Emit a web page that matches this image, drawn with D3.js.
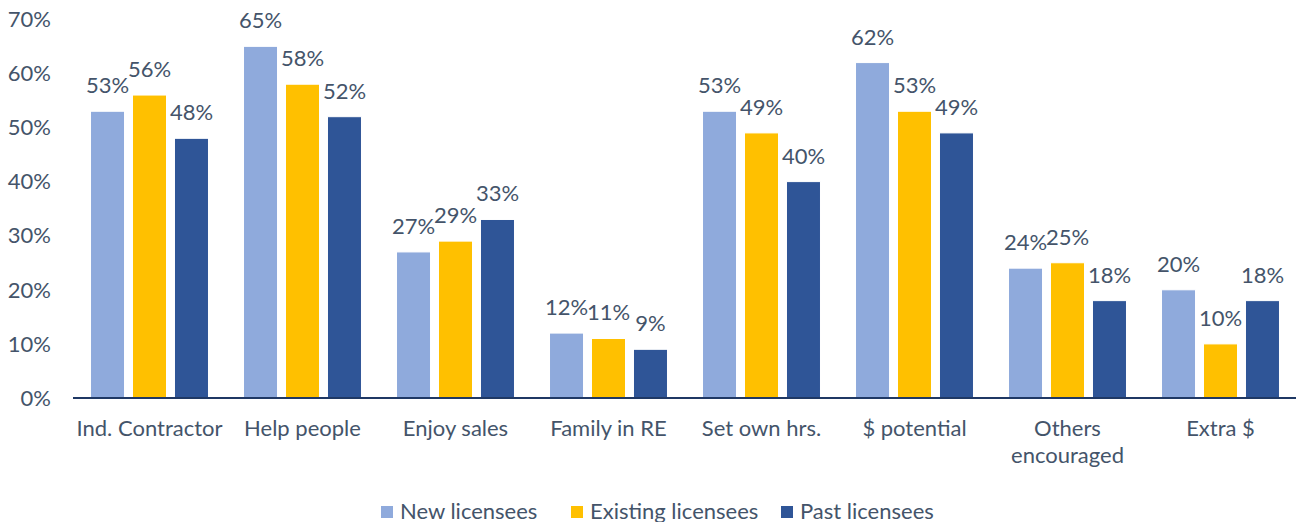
<!DOCTYPE html>
<html>
<head>
<meta charset="utf-8">
<title>Reasons for licensing</title>
<script src="https://d3js.org/d3.v7.min.js"></script>
<style>
  body { margin: 0; background: #fff; }
  text { font-family: Lato, "Open Sans", sans-serif; fill: #44546A; }
</style>
</head>
<body>
<svg id="chart" width="1296" height="522"></svg>
<script>
// data
var categories = ["Ind. Contractor", "Help people", "Enjoy sales", "Family in RE",
                  "Set own hrs.", "$ potential", "Others encouraged", "Extra $"];
var seriesNames = ["New licensees", "Existing licensees", "Past licensees"];
var newLic      = [53, 65, 27, 12, 53, 62, 24, 20];
var existingLic = [56, 58, 29, 11, 49, 53, 25, 10];
var pastLic     = [48, 52, 33, 9, 40, 49, 18, 18];
var yTicks = [0, 10, 20, 30, 40, 50, 60, 70];

var colors = ["#8FAADC", "#FFC000", "#2F5597"];
var series = [newLic, existingLic, pastLic];

var svg = d3.select("#chart");
var plotLeft = 73, plotRight = 1297, plotTop = 19.3, plotBottom = 398;
var fs = "22px";

var x0 = d3.scaleBand().domain(categories).range([plotLeft, plotRight])
  .paddingInner(0.229).paddingOuter(0.1145);
var x1 = d3.scaleBand().domain(d3.range(3)).range([0, x0.bandwidth()])
  .paddingInner(0.19).paddingOuter(0);
var y = d3.scaleLinear().domain([0, 70]).range([plotBottom, plotTop]);

// y tick labels (no gridlines)
svg.append("g").selectAll("text")
  .data(yTicks).enter().append("text")
  .attr("x", 51).attr("y", function(d){ return y(d); })
  .attr("dy", "0.35em")
  .attr("text-anchor", "end")
  .style("font-size", fs)
  .text(function(d){ return d + "%"; });

// bars
var groups = svg.append("g").selectAll("g")
  .data(categories).enter().append("g")
  .attr("transform", function(d){ return "translate(" + x0(d) + ",0)"; });

groups.selectAll("rect")
  .data(function(d, i){ return series.map(function(s, k){ return {k: k, v: s[i]}; }); })
  .enter().append("rect")
  .attr("x", function(d){ return x1(d.k); })
  .attr("y", function(d){ return y(d.v); })
  .attr("width", x1.bandwidth())
  .attr("height", function(d){ return y(0) - y(d.v); })
  .attr("fill", function(d){ return colors[d.k]; })
  .attr("stroke", "#ffffff")
  .attr("stroke-width", 1);

groups.selectAll("text.val")
  .data(function(d, i){ return series.map(function(s, k){ return {k: k, v: s[i]}; }); })
  .enter().append("text").attr("class", "val")
  .attr("x", function(d){ return x1(d.k) + x1.bandwidth() / 2; })
  .attr("y", function(d){ return y(d.v) - 18; })
  .attr("text-anchor", "middle")
  .style("font-size", fs)
  .text(function(d){ return d.v + "%"; });

// x axis line
svg.append("line")
  .attr("x1", plotLeft).attr("x2", plotRight)
  .attr("y1", y(0)).attr("y2", y(0))
  .attr("stroke", "#1F3864").attr("stroke-width", 2);

// category labels, wrapped where Excel wraps them
svg.append("g").selectAll("text")
  .data(categories).enter().append("text")
  .attr("x", function(d){ return x0(d) + x0.bandwidth() / 2; })
  .attr("y", 436)
  .attr("text-anchor", "middle")
  .style("font-size", fs)
  .each(function(d){
    var lines = d === "Others encouraged" ? ["Others", "encouraged"] : [d];
    var t = d3.select(this);
    lines.forEach(function(l, i){
      t.append("tspan").attr("x", x0(d) + x0.bandwidth() / 2)
        .attr("dy", i ? 27 : 0).text(l);
    });
  });

// legend
var legend = svg.append("g");
var lx = [381, 571, 781];
seriesNames.forEach(function(name, i){
  legend.append("rect")
    .attr("x", lx[i]).attr("y", 506).attr("width", 12).attr("height", 12)
    .attr("fill", colors[i]);
  legend.append("text")
    .attr("x", lx[i] + 19).attr("y", 519)
    .style("font-size", fs)
    .text(name);
});
</script>
</body>
</html>
